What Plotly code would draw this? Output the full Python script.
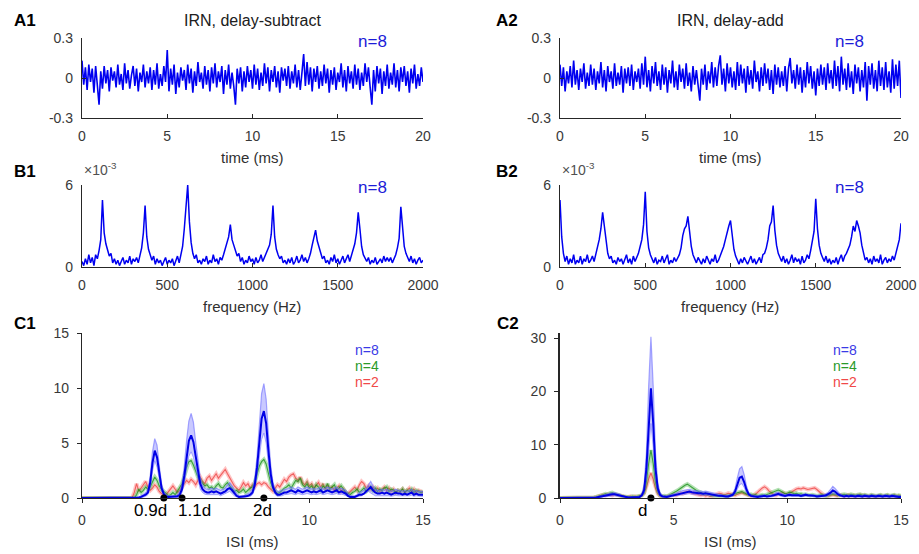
import plotly.graph_objects as go

# ---------------- DATA ----------------
time_ms = [round(i * 0.1, 1) for i in range(201)]
freq_hz = list(range(0, 2001, 10))
isi_ms = [round(i * 0.1, 1) for i in range(151)]

a1_wave = [
    0.13, -0.05, 0.08, -0.09, 0.10, -0.03, 0.07, -0.11, 0.09, -0.06, -0.20, 0.05, -0.08, 0.09, -0.04, 0.06, -0.10, 0.08, -0.02, 0.05,
    -0.07, 0.10, -0.05, 0.03, -0.09, 0.11, -0.04, 0.06, -0.08, 0.02, 0.09, -0.06, 0.07, -0.10, 0.04, -0.03, 0.10, -0.07, 0.05, -0.04,
    0.08, -0.09, 0.06, -0.05, 0.11, -0.08, 0.03, -0.06, 0.09, -0.03, 0.21, -0.10, 0.07, -0.05, 0.10, -0.12, 0.04, -0.07, 0.08, -0.02,
    0.06, -0.09, 0.10, -0.04, 0.07, -0.11, 0.05, -0.06, 0.12, -0.03, 0.04, -0.08, 0.09, -0.05, 0.06, -0.10, 0.08, -0.04, 0.11, -0.07,
    0.05, -0.03, 0.09, -0.12, 0.06, -0.05, 0.10, -0.08, 0.04, -0.06, -0.20, 0.07, -0.04, 0.08, -0.10, 0.05, -0.07, 0.09, -0.03, 0.06,
    -0.08, 0.10, -0.05, 0.07, -0.09, 0.04, -0.06, 0.11, -0.04, 0.08, -0.10, 0.06, -0.03, 0.09, -0.07, 0.05, -0.11, 0.08, -0.02, 0.07,
    -0.06, 0.09, -0.08, 0.05, -0.04, 0.10, -0.07, 0.06, -0.09, 0.04, 0.18, -0.06, 0.12, -0.05, 0.08, -0.10, 0.07, -0.03, 0.09, -0.08,
    0.05, -0.06, 0.10, -0.04, 0.07, -0.11, 0.06, -0.05, 0.08, -0.09, 0.04, -0.03, 0.11, -0.07, 0.06, -0.10, 0.09, -0.04, 0.05, -0.08,
    0.10, -0.05, 0.07, -0.09, 0.04, -0.06, 0.11, -0.03, 0.08, -0.07, -0.20, 0.06, -0.10, 0.09, -0.04, 0.07, -0.12, 0.05, -0.06, 0.10,
    -0.08, 0.04, -0.05, 0.11, -0.07, 0.06, -0.10, 0.08, -0.03, 0.09, -0.06, 0.05, -0.11, 0.07, -0.04, 0.10, -0.08, 0.03, -0.06, 0.08,
    -0.03,
]

a2_wave = [
    0.10, -0.06, 0.08, -0.10, 0.05, -0.04, 0.09, -0.07, 0.13, -0.05, 0.06, -0.09, 0.07, -0.03, 0.11, -0.08, 0.04, -0.06, 0.10, -0.05,
    0.07, -0.09, 0.05, -0.04, 0.12, -0.07, 0.06, -0.10, 0.09, -0.03, 0.05, -0.08, 0.11, -0.06, 0.04, -0.05, 0.09, -0.11, 0.07, -0.04,
    0.08, -0.06, 0.10, -0.09, 0.05, -0.03, 0.07, -0.08, 0.11, -0.05, 0.16, -0.07, 0.06, -0.10, 0.09, -0.04, 0.12, -0.06, 0.05, -0.09,
    0.10, -0.05, 0.08, -0.11, 0.06, -0.04, 0.13, -0.07, 0.05, -0.09, 0.10, -0.03, 0.07, -0.08, 0.11, -0.06, 0.04, -0.10, 0.09, -0.05,
    0.06, -0.08, -0.17, 0.07, -0.05, 0.10, -0.09, 0.05, -0.04, 0.12, -0.07, 0.08, -0.06, 0.09, 0.17, -0.05, 0.07, -0.10, 0.11, -0.04,
    0.08, -0.07, 0.05, -0.09, 0.12, -0.06, 0.10, -0.04, 0.07, -0.11, 0.09, -0.05, 0.06, -0.08, 0.13, -0.03, 0.05, -0.10, 0.08, -0.06,
    0.11, -0.04, 0.07, -0.09, 0.06, -0.12, 0.10, -0.05, 0.08, -0.07, 0.05, -0.06, 0.09, -0.10, 0.07, 0.15, -0.04, 0.06, -0.08, 0.10,
    -0.05, 0.08, -0.11, 0.06, -0.07, 0.12, -0.04, 0.09, -0.08, 0.05, -0.13, 0.07, -0.06, 0.10, -0.05, 0.08, -0.09, 0.11, -0.04, 0.06,
    -0.08, 0.13, -0.06, 0.09, -0.10, 0.16, -0.05, 0.07, -0.09, 0.11, -0.07, 0.05, -0.12, 0.10, -0.04, 0.08, -0.10, 0.06, -0.07, 0.12,
    -0.17, 0.09, -0.05, 0.11, -0.08, 0.06, -0.10, 0.13, -0.06, 0.08, -0.09, 0.12, -0.07, 0.05, -0.11, 0.14, -0.08, 0.10, -0.06, 0.13,
    -0.15,
]

# spectra in units of 1e-3
b1_spec = [
    0.4, 0.1, 0.6, 0.2, 0.9, 0.3, 0.7, 0.1, 0.9, 0.6,
    1.2, 2.0, 4.9, 2.5, 1.7, 1.2, 0.8, 1.0, 0.3, 0.6,
    0.2, 0.5, 0.1, 0.4, 0.7, 0.2, 0.5, 0.3, 0.8, 0.2,
    0.6, 0.4, 0.7, 0.3, 0.9, 1.4, 2.5, 4.5, 2.2, 1.3,
    0.9, 0.5, 0.8, 0.2, 0.6, 0.3, 0.5, 0.1, 0.4, 0.7,
    0.2, 0.5, 0.3, 0.6, 0.1, 0.4, 0.8, 0.3, 0.9, 1.5,
    2.8, 4.3, 6.0, 3.3, 1.8, 1.0, 0.6, 0.9, 0.3, 0.5,
    0.2, 0.6, 0.4, 0.8, 0.2, 0.5, 0.3, 0.9, 0.4, 0.6,
    0.2, 0.7, 0.5, 0.9, 1.3, 1.8, 2.2, 3.1, 2.0, 1.6,
    1.1, 0.8, 1.0, 0.4, 0.7, 0.2, 0.5, 0.3, 0.8, 0.4,
    0.6, 0.2, 0.7, 0.3, 0.5, 0.9, 0.4, 0.7, 0.9, 1.3,
    1.6, 2.4, 4.5, 2.2, 1.3, 0.9, 0.6, 0.8, 0.3, 0.5,
    0.2, 0.6, 0.3, 0.7, 0.2, 0.4, 0.8, 0.3, 0.5, 0.9,
    0.4, 0.7, 0.3, 0.6, 1.0, 1.6, 2.2, 2.7, 1.9, 1.4,
    0.9, 0.6, 0.8, 0.3, 0.5, 0.2, 0.7, 0.4, 0.9, 0.3,
    0.6, 0.2, 0.5, 0.8, 0.3, 0.6, 0.9, 0.4, 0.8, 1.2,
    1.7, 2.5, 4.0, 2.8, 1.5, 0.9, 0.6, 0.4, 0.7, 0.2,
    0.5, 0.3, 0.7, 0.2, 0.4, 0.6, 0.3, 0.8, 0.4, 0.7,
    0.4, 0.7, 0.3, 0.6, 0.9, 1.4, 2.1, 4.4, 2.6, 1.5,
    1.0, 0.7, 0.4, 0.8, 0.3, 0.6, 0.2, 0.5, 0.7, 0.3,
    0.5,
]

b2_spec = [
    4.9, 2.2, 1.0, 0.4, 0.8, 0.2, 0.6, 0.3, 0.9, 0.2,
    0.5, 0.3, 0.8, 0.2, 0.6, 0.4, 0.9, 0.3, 0.5, 0.8,
    0.4, 0.9, 1.3, 2.0, 2.8, 4.0, 3.0, 1.8, 1.0, 0.6,
    0.8, 0.3, 0.5, 0.2, 0.7, 0.4, 0.6, 0.2, 0.5, 0.9,
    0.3, 0.6, 0.2, 0.8, 0.4, 0.7, 1.0, 1.5, 2.0, 3.1,
    5.5, 2.6, 1.4, 0.9, 0.6, 0.3, 0.7, 0.2, 0.5, 0.4,
    0.8, 0.3, 0.6, 0.9, 0.2, 0.5, 0.3, 0.7, 0.4, 0.6,
    0.9, 1.4, 2.3, 2.8, 3.0, 3.7, 2.4, 1.5, 0.9, 0.6,
    0.3, 0.7, 0.4, 0.2, 0.6, 0.3, 0.8, 0.5, 0.2, 0.6,
    0.4, 0.9, 0.3, 0.5, 0.8, 1.1, 1.5, 2.0, 2.6, 3.0,
    3.4, 2.4, 1.3, 0.8, 0.5, 0.2, 0.6, 0.3, 0.7, 0.4,
    0.2, 0.5, 0.8, 0.3, 0.6, 0.2, 0.4, 0.7, 0.3, 0.9,
    1.0, 1.4, 2.0, 3.0, 3.3, 4.5, 2.7, 1.6, 1.0, 0.7,
    0.4, 0.8, 0.3, 0.6, 0.2, 0.5, 0.9, 0.3, 0.7, 0.4,
    0.6, 0.2, 0.8, 0.3, 0.5, 0.9, 0.6, 1.2, 1.8, 2.6,
    5.0, 2.8, 1.6, 1.0, 0.7, 0.4, 0.8, 0.3, 0.6, 0.2,
    0.5, 0.3, 0.7, 0.2, 0.6, 0.9, 0.4, 0.8, 1.0, 1.3,
    1.6, 2.2, 3.0, 2.6, 3.4, 3.0, 2.5, 1.6, 0.9, 0.5,
    0.7, 0.3, 0.6, 0.2, 0.8, 0.4, 0.6, 0.3, 0.9, 0.2,
    0.5, 0.7, 0.3, 0.6, 0.4, 0.8, 0.5, 1.0, 1.4, 2.0,
    3.2,
]

# C1: ISI histograms (delay-subtract)
c1_n8_mean = [
    0, 0, 0, 0, 0, 0, 0, 0, 0, 0,
    0, 0, 0, 0, 0, 0, 0, 0, 0, 0,
    0, 0, 0, 0, 0.02, 0.05, 0.1, 0.2, 0.3, 0.5,
    1.4, 3.2, 4.3, 3.7, 2.2, 0.9, 0.35, 0.15, 0.1, 0.1,
    0.1, 0.1, 0.15, 0.3, 0.8, 2.0, 3.8, 5.2, 5.7, 5.1,
    3.8, 2.4, 1.3, 0.8, 0.6, 0.5, 0.5, 0.6, 0.5, 0.6,
    0.5, 0.4, 0.5, 0.6, 0.8, 0.9, 0.7, 0.4, 0.2, 0.1,
    0.1, 0.1, 0.15, 0.2, 0.3, 0.5, 1.2, 2.8, 5.0, 7.2,
    7.9, 6.8, 4.3, 2.2, 1.0, 0.5, 0.3, 0.3, 0.4, 0.5,
    0.5, 0.6, 0.7, 0.6, 0.5, 0.7, 0.6, 0.5, 0.6, 0.7,
    0.6, 0.5, 0.6, 0.5, 0.6, 0.7, 0.5, 0.6, 0.7, 0.6,
    0.5, 0.6, 0.7, 0.5, 0.6, 0.5, 0.4, 0.2, 0.1, 0.1,
    0.1, 0.2, 0.3, 0.3, 0.4, 0.6, 0.8, 1.0, 0.7, 0.5,
    0.4, 0.4, 0.5, 0.4, 0.5, 0.4, 0.3, 0.4, 0.5, 0.4,
    0.4, 0.3, 0.4, 0.3, 0.4, 0.5, 0.3, 0.4, 0.3, 0.3,
    0.3,
]
c1_n8_upper = [
    0, 0, 0, 0, 0, 0, 0, 0, 0, 0,
    0, 0, 0, 0, 0, 0, 0, 0, 0, 0,
    0, 0, 0, 0, 0.05, 0.1, 0.2, 0.35, 0.5, 0.8,
    2.0, 4.2, 5.4, 4.8, 2.9, 1.3, 0.55, 0.3, 0.2, 0.2,
    0.2, 0.2, 0.3, 0.6, 1.3, 2.9, 5.2, 7.0, 7.7, 6.9,
    5.1, 3.3, 1.9, 1.2, 0.9, 0.8, 0.8, 0.9, 0.8, 0.9,
    0.8, 0.7, 0.8, 0.9, 1.2, 1.4, 1.1, 0.7, 0.4, 0.2,
    0.2, 0.2, 0.3, 0.4, 0.5, 0.8, 1.8, 3.8, 6.7, 9.5,
    10.4, 9.0, 5.8, 3.0, 1.4, 0.8, 0.6, 0.6, 0.7, 0.8,
    0.8, 0.9, 1.0, 0.9, 0.8, 1.0, 0.9, 0.8, 0.9, 1.0,
    0.9, 0.8, 0.9, 0.8, 0.9, 1.0, 0.8, 0.9, 1.0, 0.9,
    0.8, 0.9, 1.0, 0.8, 0.9, 0.8, 0.7, 0.4, 0.2, 0.2,
    0.2, 0.3, 0.5, 0.6, 0.7, 0.9, 1.2, 1.5, 1.1, 0.8,
    0.7, 0.7, 0.8, 0.7, 0.8, 0.7, 0.6, 0.7, 0.8, 0.7,
    0.7, 0.6, 0.7, 0.6, 0.7, 0.8, 0.6, 0.7, 0.6, 0.6,
    0.6,
]
c1_n8_lower = [
    0, 0, 0, 0, 0, 0, 0, 0, 0, 0,
    0, 0, 0, 0, 0, 0, 0, 0, 0, 0,
    0, 0, 0, 0, 0, 0, 0.02, 0.08, 0.15, 0.3,
    0.9, 2.4, 3.4, 2.8, 1.6, 0.6, 0.2, 0.05, 0.02, 0.02,
    0.02, 0.03, 0.05, 0.15, 0.5, 1.3, 2.7, 3.8, 4.2, 3.7,
    2.7, 1.6, 0.8, 0.5, 0.35, 0.3, 0.3, 0.35, 0.3, 0.35,
    0.3, 0.2, 0.3, 0.35, 0.5, 0.6, 0.4, 0.2, 0.1, 0.05,
    0.05, 0.05, 0.08, 0.1, 0.15, 0.3, 0.8, 2.0, 3.6, 5.3,
    5.9, 5.0, 3.1, 1.6, 0.7, 0.3, 0.15, 0.15, 0.2, 0.3,
    0.3, 0.35, 0.4, 0.35, 0.3, 0.4, 0.35, 0.3, 0.35, 0.4,
    0.35, 0.3, 0.35, 0.3, 0.35, 0.4, 0.3, 0.35, 0.4, 0.35,
    0.3, 0.35, 0.4, 0.3, 0.35, 0.3, 0.2, 0.1, 0.05, 0.05,
    0.05, 0.1, 0.15, 0.2, 0.35, 0.5, 0.6, 0.45, 0.3, 0.2,
    0.2, 0.2, 0.25, 0.2, 0.25, 0.2, 0.15, 0.2, 0.25, 0.2,
    0.2, 0.15, 0.2, 0.15, 0.2, 0.25, 0.15, 0.2, 0.15, 0.15,
    0.15,
]
c1_n4_mean = [
    0, 0, 0, 0, 0, 0, 0, 0, 0, 0,
    0, 0, 0, 0, 0, 0, 0, 0, 0, 0,
    0, 0, 0, 0, 0.3, 0.8, 0.5, 0.7, 1.0, 0.8,
    1.0, 1.5, 1.9, 1.6, 1.1, 0.8, 0.6, 0.4, 0.2, 0.3,
    0.5, 0.3, 0.6, 0.9, 1.3, 2.0, 2.8, 3.3, 3.4, 3.0,
    2.5, 1.9, 1.6, 1.3, 1.1, 1.2, 0.9, 1.0, 0.8, 1.1,
    1.3, 1.0, 0.9, 1.2, 1.4, 1.1, 0.8, 0.6, 0.7, 0.5,
    0.6, 0.8, 0.5, 0.7, 0.9, 1.0, 1.4, 2.2, 2.9, 3.3,
    3.5, 3.1, 2.2, 1.4, 0.9, 0.6, 0.4, 0.5, 0.7, 0.9,
    1.0, 1.2, 0.9, 1.3, 1.6, 1.5, 1.8, 1.2, 1.0, 1.3,
    0.9, 1.1, 0.8, 1.2, 1.0, 0.7, 1.1, 0.9, 1.3, 0.8,
    1.0, 1.2, 0.7, 0.9, 1.1, 0.8, 0.5, 0.4, 0.3, 0.5,
    0.6, 0.8, 0.5, 0.7, 0.9, 0.6, 0.8, 1.0, 0.7, 0.9,
    0.6, 0.8, 0.7, 0.9, 1.0, 0.6, 0.8, 0.7, 0.5, 0.7,
    0.6, 0.8, 0.5, 0.7, 0.6, 0.8, 0.5, 0.7, 0.6, 0.5,
    0.6,
]
c1_n2_mean = [
    0, 0, 0, 0, 0, 0, 0, 0, 0, 0,
    0, 0, 0, 0, 0, 0, 0, 0, 0, 0,
    0, 0, 0, 0.5, 1.3, 0.6, 0.9, 1.2, 1.5, 1.0,
    0.7, 0.9, 1.2, 1.0, 0.6, 0.4, 0.2, 0.3, 0.6, 0.9,
    1.1, 0.8, 0.5, 0.7, 1.0, 1.3, 1.6, 1.4, 1.7, 1.5,
    1.2, 1.6, 1.9, 1.5, 1.3, 1.8, 2.0, 1.6, 1.9, 2.2,
    1.8, 2.1, 2.4, 2.6, 2.2, 1.8, 1.4, 1.1, 0.9, 0.7,
    1.0, 1.4, 1.1, 1.3, 0.9, 1.2, 1.0, 1.3, 1.4, 1.2,
    1.4, 1.3, 1.0, 0.8, 0.6, 0.9, 1.2, 1.0, 1.4, 1.7,
    1.5, 1.9, 2.1, 2.2, 1.8, 1.6, 1.9, 1.4, 1.2, 1.5,
    1.1, 1.3, 0.9, 1.2, 1.4, 1.0, 1.3, 0.8, 1.1, 0.9,
    1.0, 0.7, 0.9, 1.1, 0.6, 0.8, 0.5, 0.4, 0.6, 0.8,
    1.0, 0.7, 1.2, 1.5, 1.3, 0.9, 1.1, 0.8, 1.0, 0.7,
    0.9, 0.6, 0.8, 1.0, 0.7, 0.9, 0.6, 0.8, 0.5, 0.7,
    0.6, 0.8, 0.5, 0.7, 0.9, 0.6, 0.8, 0.5, 0.7, 0.6,
    0.5,
]

# C2: ISI histograms (delay-add)
c2_n8_mean = [
    0, 0, 0, 0, 0, 0, 0, 0, 0, 0,
    0, 0, 0, 0, 0, 0.05, 0.1, 0.2, 0.3, 0.35,
    0.4, 0.5, 0.6, 0.7, 0.7, 0.6, 0.5, 0.3, 0.2, 0.15,
    0.1, 0.1, 0.1, 0.1, 0.1, 0.2, 0.5, 1.5, 5.5, 14.0,
    20.6, 14.0, 5.5, 1.8, 0.6, 0.3, 0.2, 0.2, 0.3, 0.4,
    0.5, 0.6, 0.8, 0.9, 1.0, 1.1, 1.2, 1.2, 1.1, 1.0,
    1.0, 0.9, 0.9, 0.8, 0.9, 0.8, 0.7, 0.6, 0.5, 0.5,
    0.4, 0.4, 0.3, 0.3, 0.3, 0.4, 0.6, 1.2, 2.6, 3.8,
    4.0, 3.0, 1.6, 0.7, 0.4, 0.3, 0.3, 0.2, 0.3, 0.4,
    0.4, 0.3, 0.3, 0.4, 0.5, 0.7, 0.8, 0.6, 0.5, 0.4,
    0.5, 0.6, 0.5, 0.5, 0.6, 0.5, 0.4, 0.5, 0.6, 0.5,
    0.5, 0.4, 0.4, 0.3, 0.3, 0.3, 0.4, 0.5, 0.7, 1.0,
    1.4, 1.2, 0.8, 0.5, 0.4, 0.3, 0.4, 0.3, 0.4, 0.3,
    0.3, 0.4, 0.3, 0.3, 0.4, 0.3, 0.3, 0.4, 0.3, 0.3,
    0.4, 0.3, 0.3, 0.4, 0.3, 0.3, 0.4, 0.3, 0.3, 0.2,
    0.2,
]
c2_n8_upper = [
    0, 0, 0, 0, 0, 0, 0, 0, 0, 0,
    0, 0, 0, 0, 0, 0.1, 0.2, 0.35, 0.5, 0.6,
    0.7, 0.8, 0.9, 1.0, 1.0, 0.9, 0.8, 0.5, 0.35, 0.25,
    0.2, 0.2, 0.2, 0.2, 0.2, 0.35, 0.8, 2.5, 8.5, 21.0,
    30.3, 21.0, 8.5, 2.8, 1.0, 0.55, 0.4, 0.4, 0.5, 0.7,
    0.8, 0.9, 1.1, 1.3, 1.4, 1.5, 1.6, 1.6, 1.5, 1.4,
    1.4, 1.3, 1.3, 1.2, 1.3, 1.2, 1.0, 0.9, 0.8, 0.7,
    0.6, 0.6, 0.5, 0.5, 0.5, 0.6, 0.9, 1.8, 3.8, 5.5,
    5.9, 4.4, 2.3, 1.0, 0.6, 0.5, 0.5, 0.4, 0.5, 0.6,
    0.6, 0.5, 0.5, 0.6, 0.7, 1.0, 1.1, 0.9, 0.7, 0.6,
    0.7, 0.8, 0.7, 0.7, 0.8, 0.7, 0.6, 0.7, 0.8, 0.7,
    0.7, 0.6, 0.6, 0.5, 0.5, 0.5, 0.6, 0.8, 1.1, 1.6,
    2.2, 1.8, 1.2, 0.8, 0.6, 0.5, 0.6, 0.5, 0.6, 0.5,
    0.5, 0.6, 0.5, 0.5, 0.6, 0.5, 0.5, 0.6, 0.5, 0.5,
    0.6, 0.5, 0.5, 0.6, 0.5, 0.5, 0.6, 0.5, 0.5, 0.4,
    0.4,
]
c2_n8_lower = [
    0, 0, 0, 0, 0, 0, 0, 0, 0, 0,
    0, 0, 0, 0, 0, 0.02, 0.05, 0.1, 0.15, 0.2,
    0.2, 0.3, 0.35, 0.4, 0.4, 0.35, 0.3, 0.15, 0.1, 0.05,
    0.05, 0.05, 0.05, 0.05, 0.05, 0.1, 0.3, 0.9, 3.5, 9.5,
    14.0, 9.5, 3.5, 1.1, 0.35, 0.15, 0.1, 0.1, 0.15, 0.25,
    0.3, 0.35, 0.5, 0.55, 0.6, 0.7, 0.8, 0.8, 0.7, 0.6,
    0.6, 0.55, 0.55, 0.5, 0.55, 0.5, 0.4, 0.35, 0.3, 0.3,
    0.2, 0.2, 0.15, 0.15, 0.15, 0.2, 0.35, 0.8, 1.7, 2.5,
    2.7, 2.0, 1.0, 0.45, 0.2, 0.15, 0.15, 0.1, 0.15, 0.2,
    0.2, 0.15, 0.15, 0.2, 0.3, 0.45, 0.5, 0.35, 0.3, 0.2,
    0.3, 0.35, 0.3, 0.3, 0.35, 0.3, 0.2, 0.3, 0.35, 0.3,
    0.3, 0.2, 0.2, 0.15, 0.15, 0.15, 0.2, 0.3, 0.45, 0.6,
    0.9, 0.75, 0.5, 0.3, 0.2, 0.15, 0.2, 0.15, 0.2, 0.15,
    0.15, 0.2, 0.15, 0.15, 0.2, 0.15, 0.15, 0.2, 0.15, 0.15,
    0.2, 0.15, 0.15, 0.2, 0.15, 0.15, 0.2, 0.15, 0.15, 0.1,
    0.1,
]
c2_n4_mean = [
    0, 0, 0, 0, 0, 0, 0, 0, 0, 0,
    0, 0, 0, 0, 0, 0.1, 0.2, 0.3, 0.4, 0.6,
    0.8, 0.7, 0.9, 1.0, 0.8, 0.6, 0.5, 0.4, 0.3, 0.2,
    0.2, 0.2, 0.3, 0.2, 0.3, 0.3, 0.5, 1.0, 3.0, 6.5,
    9.0, 6.5, 3.0, 1.2, 0.5, 0.3, 0.4, 0.3, 0.5, 0.8,
    1.0, 1.2, 1.5, 1.8, 2.2, 2.4, 2.6, 2.3, 1.9, 1.6,
    1.4, 1.2, 1.0, 0.8, 0.9, 0.7, 0.6, 0.5, 0.4, 0.4,
    0.3, 0.3, 0.4, 0.3, 0.4, 0.5, 0.6, 0.8, 1.0, 1.1,
    1.2, 1.0, 0.8, 0.6, 0.7, 0.5, 0.6, 0.4, 0.5, 0.6,
    0.5, 0.6, 0.8, 1.0, 1.2, 1.4, 1.5, 1.3, 1.0, 0.8,
    0.9, 1.1, 1.0, 0.8, 0.9, 0.7, 0.8, 0.6, 0.7, 0.6,
    0.5, 0.6, 0.5, 0.4, 0.5, 0.6, 0.5, 0.4, 0.5, 0.6,
    0.8, 0.7, 0.6, 0.5, 0.6, 0.7, 0.6, 0.5, 0.7, 0.6,
    0.5, 0.6, 0.7, 0.5, 0.6, 0.5, 0.4, 0.6, 0.5, 0.4,
    0.5, 0.6, 0.4, 0.5, 0.6, 0.4, 0.5, 0.6, 0.4, 0.5,
    0.4,
]
c2_n2_mean = [
    0, 0, 0, 0, 0, 0, 0, 0, 0, 0,
    0, 0, 0, 0, 0, 0.1, 0.2, 0.3, 0.5, 0.6,
    0.5, 0.7, 0.6, 0.5, 0.7, 0.6, 0.4, 0.3, 0.2, 0.2,
    0.2, 0.3, 0.2, 0.3, 0.2, 0.3, 0.5, 0.9, 2.0, 3.6,
    4.7, 3.5, 1.8, 0.8, 0.4, 0.3, 0.2, 0.3, 0.4, 0.5,
    0.6, 0.5, 0.7, 0.9, 0.8, 1.0, 1.2, 1.1, 0.9, 0.8,
    0.7, 0.6, 0.5, 0.6, 0.4, 0.5, 0.3, 0.4, 0.6, 0.8,
    0.9, 0.8, 0.6, 0.7, 0.9, 0.8, 0.7, 0.5, 0.7, 0.9,
    1.0, 0.8, 0.6, 0.5, 0.4, 0.5, 0.7, 1.1, 1.5, 1.9,
    2.1, 1.8, 1.3, 0.9, 0.6, 0.5, 0.7, 0.9, 1.0, 0.8,
    0.7, 0.9, 1.2, 1.5, 1.7, 1.8, 1.7, 1.9, 1.8, 1.6,
    1.7, 1.8, 1.9, 1.6, 1.2, 0.8, 0.6, 0.5, 0.4, 0.5,
    0.6, 0.5, 0.4, 0.6, 0.5, 0.4, 0.5, 0.6, 0.4, 0.5,
    0.4, 0.5, 0.6, 0.4, 0.5, 0.4, 0.3, 0.5, 0.4, 0.3,
    0.4, 0.5, 0.3, 0.4, 0.5, 0.3, 0.4, 0.5, 0.3, 0.4,
    0.3,
]

# delay markers (d = 4 ms)
c1_marks_x = [3.6, 4.4, 8.0]
c1_marks_text = ["0.9d", "1.1d", "2d"]
c1_label_x = [3.03, 4.96, 7.94]
c2_marks_x = [4.0]
c2_marks_text = ["d"]
c2_label_x = [3.65]

# ---------------- FIGURE ----------------
W, H = 919, 554
FONT = "Liberation Sans, Arial, sans-serif"
AXC = "#262626"
TXC = "#383838"
BLUE = "#0000f0"

def px(x, y):
    return x / W, 1 - y / H

XL = [82 / W, 423 / W]
XR = [560 / W, 901 / W]
YA = [1 - 118 / H, 1 - 38 / H]
YB = [1 - 267 / H, 1 - 185 / H]
YC = [1 - 498 / H, 1 - 333 / H]

fig = go.Figure()

def line(x, y, ax, color, width, opacity=1.0):
    fig.add_trace(go.Scatter(x=x, y=y, xaxis="x" + ax, yaxis="y" + ax, mode="lines",
                             line=dict(color=color, width=width), opacity=opacity,
                             hoverinfo="skip", showlegend=False))

line(time_ms, a1_wave, "", BLUE, 1.6)
line(time_ms, a2_wave, "2", BLUE, 1.6)
line(freq_hz, b1_spec, "3", BLUE, 1.5)
line(freq_hz, b2_spec, "4", BLUE, 1.5)

def cpanel(ax, red, green, lower, upper, mean):
    line(isi_ms, red, ax, "rgba(255,90,90,0.35)", 4)
    line(isi_ms, red, ax, "rgba(235,60,60,0.75)", 1.1)
    line(isi_ms, green, ax, "rgba(40,170,40,0.35)", 4)
    line(isi_ms, green, ax, "rgba(20,140,20,0.75)", 1.1)
    fig.add_trace(go.Scatter(x=isi_ms, y=lower, xaxis="x" + ax, yaxis="y" + ax, mode="lines",
                             line=dict(color="rgba(110,110,255,0.55)", width=1),
                             hoverinfo="skip", showlegend=False))
    fig.add_trace(go.Scatter(x=isi_ms, y=upper, xaxis="x" + ax, yaxis="y" + ax, mode="lines",
                             line=dict(color="rgba(110,110,255,0.6)", width=1.2),
                             fill="tonexty", fillcolor="rgba(100,100,255,0.35)",
                             hoverinfo="skip", showlegend=False))
    line(isi_ms, mean, ax, "#0000e6", 2)

cpanel("5", c1_n2_mean, c1_n4_mean, c1_n8_lower, c1_n8_upper, c1_n8_mean)
cpanel("6", c2_n2_mean, c2_n4_mean, c2_n8_lower, c2_n8_upper, c2_n8_mean)

fig.add_trace(go.Scatter(x=c1_marks_x, y=[0] * len(c1_marks_x), xaxis="x5", yaxis="y5", mode="markers",
                         marker=dict(color="black", size=7), cliponaxis=False, hoverinfo="skip", showlegend=False))
fig.add_trace(go.Scatter(x=c2_marks_x, y=[0] * len(c2_marks_x), xaxis="x6", yaxis="y6", mode="markers",
                         marker=dict(color="black", size=7), cliponaxis=False, hoverinfo="skip", showlegend=False))

def axis(domain, anchor, rng, tickvals, ticktext=None, ticks="inside", lw=1.4):
    return dict(domain=domain, anchor=anchor, range=rng, tickvals=tickvals,
                ticktext=ticktext if ticktext else [str(v) for v in tickvals],
                showline=True, linecolor=AXC, linewidth=lw, ticks=ticks, ticklen=4,
                tickcolor=AXC, tickwidth=1.2, showgrid=False, zeroline=False,
                tickfont=dict(family=FONT, size=14, color=TXC), ticklabelstandoff=5,
                automargin=False, fixedrange=True)

ta = [0, 5, 10, 15, 20]
fa = [0, 500, 1000, 1500, 2000]
fig.update_layout(
    xaxis=axis(XL, "y", [0, 20], ta),
    yaxis=axis(YA, "x", [-0.3, 0.3], [-0.3, 0, 0.3], ["-0.3", "0", "0.3"]),
    xaxis2=axis(XR, "y2", [0, 20], ta),
    yaxis2=axis(YA, "x2", [-0.3, 0.3], [-0.3, 0, 0.3], ["-0.3", "0", "0.3"]),
    xaxis3=axis(XL, "y3", [0, 2000], fa),
    yaxis3=axis(YB, "x3", [0, 6], [0, 6]),
    xaxis4=axis(XR, "y4", [0, 2000], fa),
    yaxis4=axis(YB, "x4", [0, 6], [0, 6]),
    xaxis5=axis(XL, "y5", [0, 15], [0, 10, 15], ticks="outside"),
    yaxis5=axis(YC, "x5", [0, 15], [0, 5, 10, 15], ticks="outside"),
    xaxis6=axis(XR, "y6", [0, 15], [0, 5, 10, 15], ticks="outside"),
    yaxis6=axis(YC, "x6", [0, 31], [0, 10, 20, 30], ticks="outside", lw=2),
)

ann = []
def text(x, y, s, size, color="black", bold=False, xanchor="center"):
    xx, yy = px(x, y)
    ann.append(dict(x=xx, y=yy, xref="paper", yref="paper", text=("<b>%s</b>" % s) if bold else s,
                    showarrow=False, xanchor=xanchor, yanchor="middle",
                    font=dict(family=FONT, size=size, color=color)))

for s, x, y in [("A1", 25, 21), ("B1", 25, 172), ("C1", 25, 323),
                ("A2", 507, 21), ("B2", 507, 172), ("C2", 508, 323)]:
    text(x, y, s, 17, "black", bold=True)
text(252, 21, "IRN, delay-subtract", 16, "#202020")
text(730, 21, "IRN, delay-add", 16, "#202020")
for x, y in [(372, 42), (849, 42), (372, 187), (849, 187)]:
    text(x, y, "n=8", 17, "#1c1cd8")
text(82, 169, "×10<sup>-3</sup>", 14, "#505050", xanchor="left")
text(560, 169, "×10<sup>-3</sup>", 14, "#505050", xanchor="left")
for xc in (252, 730):
    text(xc, 157, "time (ms)", 15, "#303030")
    text(xc, 306, "frequency (Hz)", 15, "#303030")
    text(xc, 541, "ISI (ms)", 15, "#303030")
for xc in (367, 845):
    text(xc, 350, "n=8", 14, "#3a3ae6")
    text(xc, 366, "n=4", 14, "#2a9a2a")
    text(xc, 382, "n=2", 14, "#f04848")
for xv, s in zip(c1_label_x, c1_marks_text):
    ann.append(dict(x=xv, y=1 - 510 / H, xref="x5", yref="paper", text=s, showarrow=False,
                    xanchor="center", yanchor="middle", font=dict(family=FONT, size=17, color="black")))
for xv, s in zip(c2_label_x, c2_marks_text):
    ann.append(dict(x=xv, y=1 - 510 / H, xref="x6", yref="paper", text=s, showarrow=False,
                    xanchor="center", yanchor="middle", font=dict(family=FONT, size=17, color="black")))

fig.update_layout(annotations=ann, width=W, height=H, margin=dict(l=0, r=0, t=0, b=0),
                  paper_bgcolor="white", plot_bgcolor="white", showlegend=False,
                  font=dict(family=FONT))

fig.write_html("out.html")
